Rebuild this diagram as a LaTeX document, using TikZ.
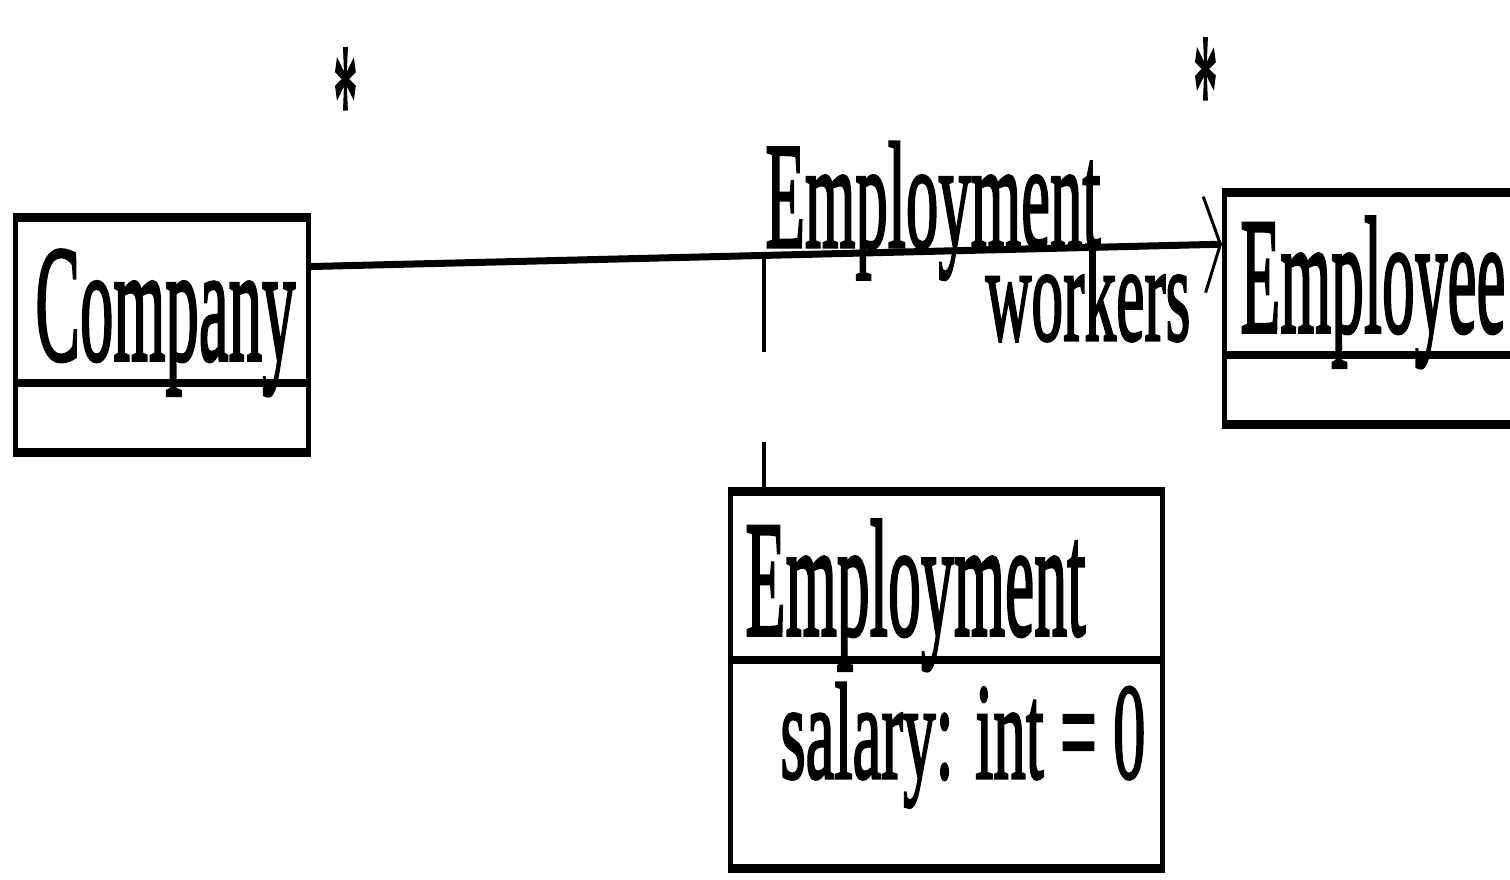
\documentclass[tikz,border=0pt]{standalone}
\usepackage{fontspec}
\setmainfont{Liberation Serif}[FakeBold=2.2]
\usepackage{graphicx}
\usetikzlibrary{arrows.meta,calc}
\newcommand{\sq}[3]{\resizebox{#1}{#2}{#3}}
\tikzset{
  classbox/.style={draw=black, line width=2.5pt, fill=none, inner sep=0pt, minimum width=#1},
  hline/.style={line width=4pt, line cap=butt},
  lbl/.style={inner sep=0pt, anchor=base west, text=black},
  assoc/.style={line width=3.5pt, -{Straight Barb[length=8pt, width=48pt, line width=1.5pt]}},
  assoclink/.style={line width=2pt, dash pattern=on 47.5pt off 45pt}
}
\begin{document}
\begin{tikzpicture}[x=0.5pt,y=-0.5pt]
\useasboundingbox (0,0) rectangle (1510,879);
\clip (0,0) rectangle (1510,879);
% class boxes
\node[classbox=146.5pt, minimum height=115.5pt] (company) at (161.5,334.5) {};
\node[classbox=151.5pt, minimum height=114pt] (employee) at (1530,306) [anchor=north east, yshift=57pt] {};
\node[classbox=216pt, minimum height=186.5pt] (emp) at (946,679.5) {};
% horizontal rules
\draw[hline] (company.north west) -- (company.north east);
\draw[hline] (company.south west) -- (company.south east);
\draw[hline] (15,383) -- (308,383);
\draw[hline] (employee.north west) -- (employee.north east);
\draw[hline] (employee.south west) -- (employee.south east);
\draw[hline] (1227,355) -- (1530,355);
\draw[hline] (emp.north west) -- (emp.north east);
\draw[hline] (emp.south west) -- (emp.south east);
\draw[hline] (730,660) -- (1162,660);
% texts
\node[lbl] (companyname) at (35,360) {\sq{130pt}{55pt}{Company}};
\node[lbl] (employeename) at (1240,332) {\sq{132.5pt}{57.5pt}{Employee}};
\node[lbl] (empname) at (745,635) {\sq{170pt}{57.5pt}{Employment}};
\node[lbl] (salary) at (780,778) {\sq{182.5pt}{47.5pt}{salary: int = 0}};
% association
\draw[assoc] ($(company.north east)!0.212!(company.south east)$) -- ($(employee.north west)!0.224!(employee.south west)$);
\node[lbl] (assocname) at (765,247) {\sq{167.5pt}{52.5pt}{Employment}};
\node[lbl] (role) at (985,340) {\sq{102.5pt}{47.5pt}{workers}};
\node[lbl] (multl) at (333,156) {\sq{12pt}{53.5pt}{*}};
\node[lbl] (multr) at (1193,146) {\sq{12pt}{53.5pt}{*}};
% association class link
\coordinate (ac) at (764,257);
\draw[assoclink] (ac) -- (ac |- emp.north);
\end{tikzpicture}
\end{document}
